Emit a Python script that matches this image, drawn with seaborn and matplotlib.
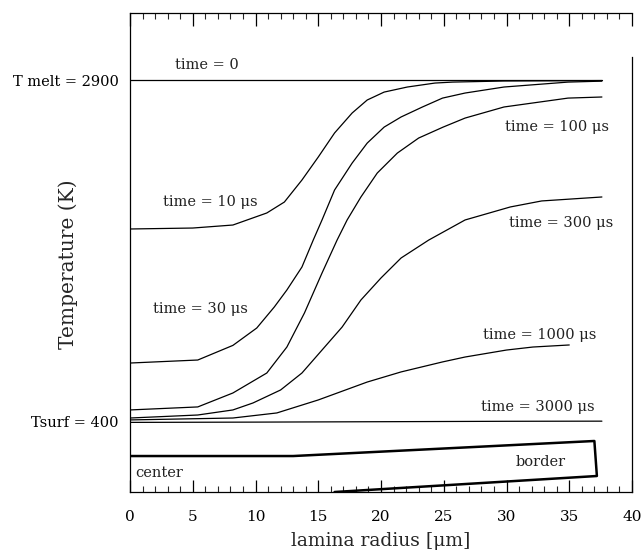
import matplotlib
matplotlib.use("Agg")
import matplotlib.pyplot as plt
from matplotlib.ticker import MultipleLocator
import seaborn as sns

# ---- data ----
r_t0 = [0, 37.6]
T_t0 = [2900, 2900]

r_t10 = [0, 5, 8.2, 10.9, 12.3, 13.7, 15.0, 16.3, 17.7, 18.9, 20.25, 22.1, 24.3, 25.7, 29.8, 37.6]
T_t10 = [1811, 1818, 1840, 1928, 2008, 2169, 2337, 2513, 2659, 2754, 2812, 2849, 2878, 2885, 2893, 2896]

r_t30 = [0, 5.4, 8.2, 10.1, 11.5, 12.5, 13.7, 14.6, 15.3, 16.3, 17.7, 18.9, 20.25, 21.6, 23.3,
         24.9, 26.7, 29.8, 34.9, 37.6]
T_t30 = [831, 853, 960, 1087, 1241, 1365, 1533, 1730, 1877, 2096, 2293, 2439, 2556, 2630, 2703,
         2768, 2805, 2849, 2885, 2892]

r_t100 = [0, 5.4, 8.2, 10.9, 12.5, 13.9, 15.3, 16.5, 17.3, 18.4, 19.7, 21.3, 23.0, 24.95, 26.7,
          29.8, 34.9, 37.6]
T_t100 = [488, 510, 612, 758, 948, 1197, 1489, 1730, 1877, 2045, 2220, 2366, 2476, 2556, 2622,
          2703, 2768, 2776]

r_t300 = [0, 5.4, 8.2, 9.8, 12.0, 13.7, 15.3, 16.9, 18.4, 20.0, 21.6, 23.8, 26.7, 30.3, 32.8, 37.6]
T_t300 = [429, 451, 488, 539, 634, 758, 926, 1094, 1292, 1453, 1599, 1730, 1877, 1972, 2016, 2045]

r_t1000 = [0, 8.2, 11.7, 15.0, 18.9, 21.6, 24.9, 26.7, 30.0, 32.1, 35.0]
T_t1000 = [415, 429, 466, 561, 692, 766, 839, 875, 926, 948, 963]

r_t3000 = [0, 10, 20, 30, 37.6]
T_t3000 = [397, 399, 402, 405, 406]

labels = ["time = 0", "time = 10 \u03bcs", "time = 30 \u03bcs", "time = 100 \u03bcs",
          "time = 300 \u03bcs", "time = 1000 \u03bcs", "time = 3000 \u03bcs"]
label_r = [3.6, 2.6, 1.8, 29.9, 30.2, 28.1, 28.0]
label_T = [3010, 2008, 1226, 2556, 1855, 1036, 510]

# lamina cross-section sketch (center -> border)
shape_r = [0, 13, 37.0, 37.2, 16.3]
shape_T = [151, 151, 261, 5, -112]

ytick_vals = [400, 2900]
ytick_labels = ["Tsurf = 400", "T melt = 2900"]
xtick_vals = [0, 5, 10, 15, 20, 25, 30, 35, 40]

# ---- plot ----
sns.set_theme(style="white")
plt.rcParams["font.family"] = ["DejaVu Serif"]

fig = plt.figure(figsize=(6.41, 5.54), dpi=100)
ax = fig.add_axes([0.2028, 0.1119, 0.7832, 0.8646])

series = [(r_t0, T_t0), (r_t10, T_t10), (r_t30, T_t30), (r_t100, T_t100),
          (r_t300, T_t300), (r_t1000, T_t1000), (r_t3000, T_t3000)]
for rr, tt in series:
    sns.lineplot(x=rr, y=tt, ax=ax, color="black", lw=0.9, sort=False, estimator=None)

for txt, xr, yt in zip(labels, label_r, label_T):
    ax.text(xr, yt, txt, fontsize=10.5, color="#222222", va="center", ha="left")

sns.lineplot(x=shape_r, y=shape_T, ax=ax, color="black", lw=1.8, sort=False, estimator=None)
ax.text(0.4, 27, "center", fontsize=10.5, va="center", ha="left", color="#222222")
ax.text(30.7, 108, "border", fontsize=10.5, va="center", ha="left", color="#222222")

ax.set_xlim(0, 40)
ax.set_ylim(-112, 3390)

ax.set_xticks(xtick_vals)
ax.xaxis.set_minor_locator(MultipleLocator(1))
ax.tick_params(axis="x", which="major", direction="in", length=9, width=0.9,
               top=True, bottom=True, labelsize=11, pad=13, colors="black")
ax.tick_params(axis="x", which="minor", direction="in", length=4, width=0.8,
               top=True, bottom=True)
ax.set_yticks(ytick_vals)
ax.set_yticklabels(ytick_labels)
ax.tick_params(axis="y", which="both", length=0, labelsize=10.5, pad=8, colors="black")

for s in ["left", "bottom", "top", "right"]:
    ax.spines[s].set_color("black")
    ax.spines[s].set_linewidth(0.9)
ax.spines["right"].set_bounds(-112, 3068)

ax.set_xlabel("lamina radius [\u03bcm]", fontsize=13.5, labelpad=6)
ax.set_ylabel("Temperature (K)", fontsize=14.5)
ax.yaxis.set_label_coords(-0.104, 0.475)

fig.savefig("out.png", dpi=100)
